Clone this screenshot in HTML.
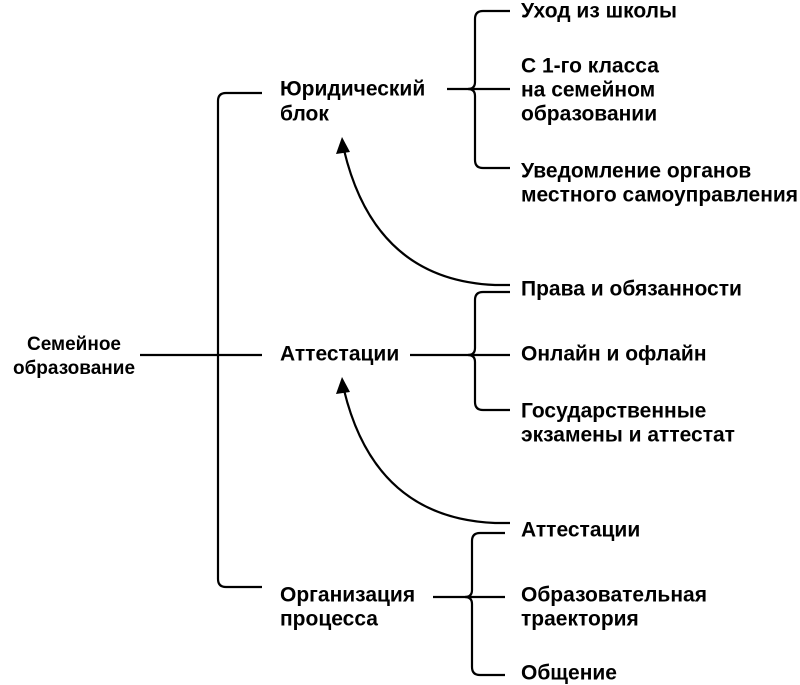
<!DOCTYPE html>
<html><head><meta charset="utf-8"><style>
html,body{margin:0;padding:0;background:#fff;}
svg{display:block;}
text{font-family:"Liberation Sans","DejaVu Sans",sans-serif;font-weight:bold;font-size:21px;fill:#000;dominant-baseline:middle;}
text.s{font-size:19px;}
</style></head><body>
<svg width="800" height="685" viewBox="0 0 800 685" xmlns="http://www.w3.org/2000/svg">
<g fill="none" stroke="#000" stroke-width="2.2">
<path d="M262 93 H226 Q218 93 218 101 V579 Q218 587 226 587 H262"/>
<path d="M140 355 H262"/>
<path d="M510 11 H483 Q475 11 475 19 V82 Q475 89 468 89 Q475 89 475 96 V160 Q475 168 483 168 H510"/>
<path d="M447 89 H510"/>
<path d="M510 292 H483 Q475 292 475 300 V348 Q475 355 468 355 Q475 355 475 362 V402 Q475 410 483 410 H510"/>
<path d="M410 355 H510"/>
<path d="M505 533 H480 Q472 533 472 541 V590 Q472 597 465 597 Q472 597 472 604 V667 Q472 675 480 675 H505"/>
<path d="M433 597 H505"/>
<path d="M510 285 H495 Q375 280 344 150"/>
<path d="M510 523 H495 Q375 518 344 390"/>
</g>
<polygon points="342,137 336,154 350,152" fill="#000"/>
<polygon points="342,377 336,394 350,392" fill="#000"/>
<text class="s" x="74" y="345" text-anchor="middle">Семейное</text>
<text class="s" x="74" y="369" text-anchor="middle">образование</text>
<text x="280" y="90">Юридический</text>
<text x="280" y="115">блок</text>
<text x="280" y="355">Аттестации</text>
<text x="280" y="596">Организация</text>
<text x="280" y="620">процесса</text>
<text x="521" y="12">Уход из школы</text>
<text x="521" y="67">С 1-го класса</text>
<text x="521" y="91">на семейном</text>
<text x="521" y="115">образовании</text>
<text x="521" y="172">Уведомление органов</text>
<text x="521" y="196">местного самоуправления</text>
<text x="521" y="290">Права и обязанности</text>
<text x="521" y="355">Онлайн и офлайн</text>
<text x="521" y="412">Государственные</text>
<text x="521" y="436">экзамены и аттестат</text>
<text x="521" y="531">Аттестации</text>
<text x="521" y="596">Образовательная</text>
<text x="521" y="620">траектория</text>
<text x="521" y="674">Общение</text>
</svg>
</body></html>
